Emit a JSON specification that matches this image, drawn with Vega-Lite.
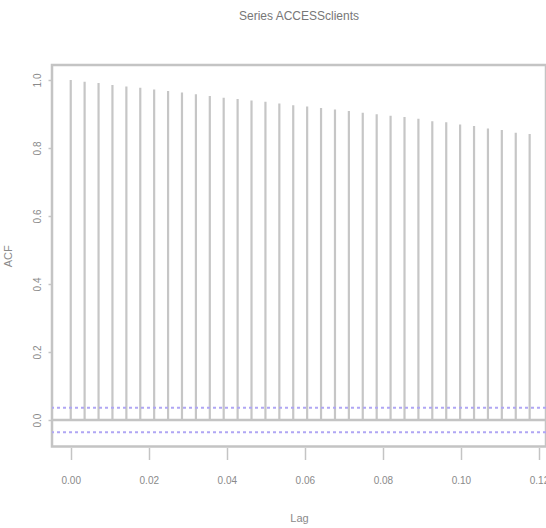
{
  "$schema": "https://vega.github.io/schema/vega-lite/v6.json",
  "autosize": {"type": "none"},
  "padding": {"left": 52, "top": 65, "right": 0, "bottom": 81.5},
  "width": 494,
  "height": 381.5,
  "background": "white",
  "config": {
    "view": {"stroke": "#c4c4c4", "strokeWidth": 2.5},
    "font": "Liberation Sans",
    "axis": {"labelColor": "#8a8a8a", "titleColor": "#8a8a8a", "tickColor": "#c4c4c4", "labelFontSize": 10, "titleFontSize": 11, "titleFontWeight": "normal", "grid": false, "domain": false}
  },
  "title": {"text": "Series ACCESSclients", "fontSize": 12, "fontWeight": "normal", "color": "#777777", "offset": 42, "anchor": "middle", "frame": "group", "dx": 0},
  "data": {"values": [
    {"lag": 0, "acf": 1.000},
    {"lag": 0.00356, "acf": 0.995},
    {"lag": 0.00713, "acf": 0.991},
    {"lag": 0.01069, "acf": 0.985},
    {"lag": 0.01426, "acf": 0.981},
    {"lag": 0.01782, "acf": 0.977},
    {"lag": 0.02138, "acf": 0.972},
    {"lag": 0.02495, "acf": 0.968},
    {"lag": 0.02851, "acf": 0.963},
    {"lag": 0.03208, "acf": 0.958},
    {"lag": 0.03564, "acf": 0.953},
    {"lag": 0.0392, "acf": 0.948},
    {"lag": 0.04277, "acf": 0.944},
    {"lag": 0.04633, "acf": 0.940},
    {"lag": 0.0499, "acf": 0.936},
    {"lag": 0.05346, "acf": 0.931},
    {"lag": 0.05702, "acf": 0.926},
    {"lag": 0.06059, "acf": 0.922},
    {"lag": 0.06415, "acf": 0.918},
    {"lag": 0.06772, "acf": 0.913},
    {"lag": 0.07128, "acf": 0.909},
    {"lag": 0.07484, "acf": 0.904},
    {"lag": 0.07841, "acf": 0.899},
    {"lag": 0.08197, "acf": 0.895},
    {"lag": 0.08554, "acf": 0.891},
    {"lag": 0.0891, "acf": 0.886},
    {"lag": 0.09266, "acf": 0.879},
    {"lag": 0.09623, "acf": 0.876},
    {"lag": 0.09979, "acf": 0.869},
    {"lag": 0.10336, "acf": 0.865},
    {"lag": 0.10692, "acf": 0.857},
    {"lag": 0.11048, "acf": 0.853},
    {"lag": 0.11405, "acf": 0.845},
    {"lag": 0.11761, "acf": 0.841}
  ]},
  "layer": [
    {
      "mark": {"type": "rule", "color": "#c6c6c6", "strokeWidth": 2.2},
      "encoding": {
        "x": {"field": "lag", "type": "quantitative", "scale": {"domain": [-0.0048, 0.1218], "nice": false, "zero": false},
              "axis": {"values": [0, 0.02, 0.04, 0.06, 0.08, 0.1, 0.12], "format": ".2f", "title": "Lag", "tickSize": 12, "tickWidth": 1.5, "labelPadding": 16, "titlePadding": 27, "offset": 1}},
        "y": {"field": "acf", "type": "quantitative", "scale": {"domain": [-0.0779, 1.0441], "nice": false, "zero": false},
              "axis": {"values": [0, 0.2, 0.4, 0.6, 0.8, 1.0], "format": ".1f", "title": "ACF", "labelAngle": -90, "labelAlign": "center", "labelBaseline": "middle", "tickSize": 4, "tickWidth": 1.5, "labelPadding": 11, "titleX": -39, "titlePadding": 10}},
        "y2": {"datum": 0}
      }
    },
    {
      "data": {"values": [{"y": 0}]},
      "mark": {"type": "rule", "color": "#c4c4c4", "strokeWidth": 2.5},
      "encoding": {"y": {"field": "y", "type": "quantitative"}}
    },
    {
      "data": {"values": [{"y": 0.036}, {"y": -0.036}]},
      "mark": {"type": "rule", "color": "#b0a6f4", "strokeWidth": 2, "strokeDash": [3, 3]},
      "encoding": {"y": {"field": "y", "type": "quantitative"}}
    }
  ]
}
